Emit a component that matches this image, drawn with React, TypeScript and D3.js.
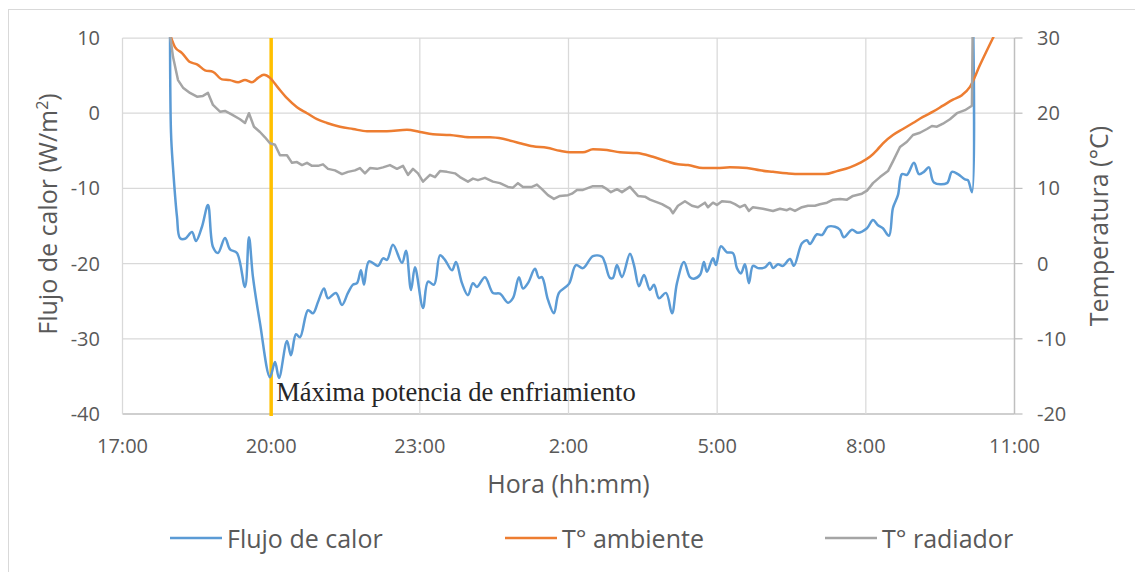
import React from "react";
import * as d3 from "d3";

// Hours elapsed since 17:00
const horasFlujo = [0.958,0.979,1.019,1.100,1.160,1.261,1.402,1.483,1.604,1.725,1.826,1.927,2.068,2.169,2.310,2.472,2.552,2.633,2.774,2.976,3.077,3.158,3.319,3.400,3.501,3.582,3.743,3.844,3.945,4.066,4.147,4.308,4.429,4.550,4.651,4.732,4.812,4.873,4.974,5.156,5.257,5.337,5.458,5.640,5.721,5.822,5.902,6.064,6.165,6.286,6.407,6.507,6.649,6.729,6.850,6.971,7.072,7.153,7.314,7.476,7.617,7.778,7.879,8.000,8.081,8.182,8.323,8.404,8.464,8.585,8.706,8.807,9.009,9.150,9.292,9.493,9.675,9.735,9.836,9.897,9.978,10.079,10.240,10.321,10.422,10.523,10.644,10.725,10.826,10.967,11.088,11.189,11.330,11.451,11.532,11.653,11.733,11.794,11.915,11.975,12.076,12.197,12.318,12.399,12.480,12.560,12.641,12.722,12.823,12.964,13.065,13.126,13.227,13.327,13.469,13.549,13.711,13.812,13.872,14.014,14.115,14.236,14.377,14.478,14.558,14.720,14.841,15.023,15.144,15.245,15.345,15.467,15.547,15.648,15.729,15.830,15.971,16.072,16.172,16.273,16.374,16.636,16.737,16.858,17.000,17.060,17.141,17.160];
const flujo = [14,-2.6,-7.2,-13.8,-16.6,-16.7,-15.8,-17.0,-15.1,-12.2,-17.8,-18.6,-16.6,-18.1,-18.6,-23.1,-16.5,-21.8,-27.9,-35.1,-33.1,-35.2,-30.3,-32.2,-29.4,-29.8,-26.2,-26.6,-25.1,-23.3,-24.6,-23.9,-25.5,-23.9,-22.8,-22.6,-20.9,-22.8,-19.7,-20.3,-19.3,-19.5,-17.5,-19.9,-18.3,-23.5,-20.5,-25.9,-22.4,-22.8,-18.9,-19.5,-20.9,-19.8,-22.6,-24.2,-22.6,-23.1,-21.8,-23.9,-24.0,-25.2,-24.6,-21.8,-23.3,-22.6,-20.7,-21.9,-21.8,-24.8,-26.6,-23.9,-22.7,-20.2,-20.6,-19.0,-19.1,-19.9,-21.9,-21.9,-20.2,-21.8,-18.7,-20.2,-23.0,-21.5,-23.5,-22.8,-24.6,-23.9,-26.6,-22.6,-19.8,-21.8,-22.0,-21.5,-19.8,-21.1,-19.3,-20.2,-17.7,-18.5,-18.6,-20.6,-21.3,-20.1,-22.6,-20.3,-20.6,-20.5,-19.9,-20.6,-20.1,-20.3,-19.4,-20.3,-17.3,-16.9,-17.4,-16.1,-16.2,-15.1,-15.1,-15.5,-16.5,-15.5,-15.9,-15.3,-14.2,-14.9,-15.3,-16.3,-12.6,-10.9,-8.1,-8.2,-6.6,-8.1,-7.8,-7.2,-9.2,-9.3,-7.8,-8.1,-8.8,-8.9,-10.5,14];

const horasAmb = [0.958,1.059,1.201,1.362,1.503,1.665,1.826,2.008,2.169,2.331,2.472,2.613,2.734,2.855,2.976,3.138,3.319,3.521,3.723,3.925,4.127,4.389,4.651,4.933,5.337,5.741,6.003,6.265,6.608,7.012,7.415,7.678,8.021,8.283,8.566,8.828,9.030,9.292,9.494,9.776,10.038,10.381,10.704,10.987,11.209,11.411,11.713,11.995,12.258,12.601,12.863,13.126,13.408,13.670,13.933,14.175,14.417,14.679,14.881,15.083,15.225,15.346,15.547,15.749,15.951,16.153,16.354,16.556,16.758,16.939,17.101,17.303,17.565,17.770];
const tAmbiente = [30.5,28.8,28.0,26.8,26.5,25.7,25.5,24.5,24.4,24.1,24.4,24.1,24.7,25.1,24.7,23.4,22.0,20.8,20.0,19.2,18.7,18.2,17.9,17.6,17.6,17.8,17.5,17.2,17.1,16.8,16.8,16.6,16.0,15.6,15.4,15.0,14.8,14.8,15.2,15.1,14.8,14.7,14.2,13.6,13.2,13.1,12.7,12.7,12.8,12.7,12.4,12.2,12.0,11.9,11.9,11.9,12.3,12.8,13.4,14.2,15.1,16.0,17.1,17.9,18.7,19.5,20.2,21.0,21.8,22.4,23.5,26.4,30.0,32.8];

const horasRad = [0.958,1.019,1.120,1.221,1.362,1.503,1.624,1.725,1.826,1.967,2.068,2.209,2.371,2.472,2.552,2.653,2.774,2.875,2.976,3.077,3.178,3.319,3.420,3.521,3.622,3.723,3.824,3.945,4.046,4.147,4.288,4.429,4.550,4.691,4.792,4.893,4.994,5.135,5.256,5.397,5.539,5.660,5.761,5.862,5.963,6.064,6.205,6.306,6.407,6.548,6.709,6.810,6.971,7.072,7.173,7.314,7.476,7.617,7.778,7.879,7.980,8.081,8.262,8.363,8.464,8.585,8.706,8.827,8.989,9.070,9.171,9.292,9.493,9.675,9.776,9.856,9.978,10.079,10.240,10.402,10.543,10.644,10.765,10.886,11.048,11.108,11.209,11.350,11.491,11.612,11.753,11.814,11.915,11.995,12.096,12.258,12.359,12.460,12.561,12.641,12.722,12.924,13.126,13.267,13.408,13.469,13.570,13.711,13.832,13.973,14.074,14.216,14.337,14.478,14.619,14.740,14.922,15.023,15.144,15.285,15.447,15.547,15.689,15.830,15.951,16.092,16.233,16.334,16.435,16.556,16.697,16.838,17.000,17.141,17.160];
const tRadiador = [30.5,27.5,24.4,23.4,22.7,22.2,22.3,22.7,21.1,20.2,20.3,19.8,19.2,18.7,20.0,18.2,17.5,16.8,16.0,15.8,14.4,14.4,13.4,13.5,13.1,13.4,13.0,13.0,13.2,12.6,12.4,11.9,12.2,12.4,12.7,12.0,12.7,12.6,12.8,13.1,12.6,13.0,11.8,12.6,12.0,10.9,11.8,11.5,12.3,12.2,12.0,11.5,10.9,11.3,11.1,11.4,10.9,10.7,10.2,10.1,10.7,10.2,10.2,10.5,9.9,9.1,8.6,9.0,9.1,9.3,9.8,9.8,10.3,10.3,9.9,9.5,9.9,9.5,10.2,9.0,8.9,8.5,8.2,7.9,7.3,6.7,7.7,8.3,7.7,7.5,8.1,7.5,8.1,7.8,8.3,8.2,7.9,7.5,7.8,7.0,7.5,7.3,7.0,7.3,7.1,7.3,7.0,7.5,7.7,7.7,7.9,8.1,8.5,8.6,8.5,9.0,9.3,9.7,10.7,11.5,12.3,13.6,15.5,16.2,17.1,17.4,17.9,18.3,18.2,18.6,19.2,20.0,20.4,21.0,34];

const xTickHoras = [0, 3, 6, 9, 12, 15, 18];
const xTickLabels = ["17:00", "20:00", "23:00", "2:00", "5:00", "8:00", "11:00"];
const yLeftTicks = [10, 0, -10, -20, -30, -40];
const yRightTicks = [30, 20, 10, 0, -10, -20];
const horaMarcador = 3;
const textoMarcador = "Máxima potencia de enfriamiento";
const leyenda = ["Flujo de calor", "T° ambiente", "T° radiador"];

const COL_BLUE = "#5B9BD5";
const COL_ORANGE = "#ED7D31";
const COL_GRAY = "#A5A5A5";
const TXT = "#595959";
const FONT = "'Open Sans', 'Noto Sans', sans-serif";

export default function App() {
  const L = 122.5, R = 1014.5, T = 38, B = 414;
  const x = d3.scaleLinear().domain([0, 18]).range([L, R]);
  const yL = d3.scaleLinear().domain([-40, 10]).range([B, T]);
  const yR = d3.scaleLinear().domain([-20, 30]).range([B, T]);

  const lineBlue = d3.line<number>()
    .x((_, i) => x(horasFlujo[i]))
    .y((d) => yL(d))
    .curve(d3.curveCatmullRom.alpha(0.5));
  const lineAmb = d3.line<number>()
    .x((_, i) => x(horasAmb[i]))
    .y((d) => yR(d))
    .curve(d3.curveMonotoneX);
  const lineRad = d3.line<number>()
    .x((_, i) => x(horasRad[i]))
    .y((d) => yR(d));

  const legendItems = [
    { label: leyenda[0], color: COL_BLUE, x0: 170 },
    { label: leyenda[1], color: COL_ORANGE, x0: 505 },
    { label: leyenda[2], color: COL_GRAY, x0: 825 },
  ];

  return (
    <svg width={1135} height={572} style={{ position: "absolute", left: 0, top: 0, background: "#fff" }}>
      <rect x={0} y={0} width={1135} height={572} fill="#fff" />
      <rect x={8.5} y={9.5} width={1140} height={600} fill="none" stroke="#d9d9d9" strokeWidth={1} />
      <defs>
        <clipPath id="plot">
          <rect x={L} y={T - 1} width={R - L} height={B - T + 2} />
        </clipPath>
      </defs>
      {yLeftTicks.map((v) => (
        <line key={"h" + v} x1={L} x2={R} y1={yL(v)} y2={yL(v)}
          stroke={v === -40 ? "#bfbfbf" : "#d9d9d9"} strokeWidth={v === -40 ? 1.5 : 1.25} />
      ))}
      {xTickHoras.slice(0, -1).map((h) => (
        <line key={"v" + h} x1={x(h)} x2={x(h)} y1={T} y2={B} stroke="#d9d9d9" strokeWidth={1.25} />
      ))}
      <line x1={R} x2={R} y1={T} y2={B} stroke="#bfbfbf" strokeWidth={1.5} />
      {yRightTicks.map((v) => (
        <line key={"rt" + v} x1={R} x2={R + 8} y1={yR(v)} y2={yR(v)} stroke="#bfbfbf" strokeWidth={1.25} />
      ))}
      {yLeftTicks.map((v) => (
        <text key={"lt" + v} x={100} y={yL(v) + 7} textAnchor="end" fontFamily={FONT} fontSize={20} fill={TXT}>{v}</text>
      ))}
      {yRightTicks.map((v) => (
        <text key={"rl" + v} x={1037} y={yR(v) + 7} textAnchor="start" fontFamily={FONT} fontSize={20} fill={TXT}>{v}</text>
      ))}
      {xTickHoras.map((h, i) => (
        <text key={"xt" + h} x={x(h)} y={453} textAnchor="middle" fontFamily={FONT} fontSize={20} fill={TXT}>{xTickLabels[i]}</text>
      ))}
      <line x1={x(horaMarcador)} x2={x(horaMarcador)} y1={T} y2={B + 2} stroke="#FFC000" strokeWidth={3.5} />
      <g clipPath="url(#plot)">
        <path d={lineBlue(flujo) || ""} fill="none" stroke={COL_BLUE} strokeWidth={2.5} strokeLinejoin="round" />
        <path d={lineAmb(tAmbiente) || ""} fill="none" stroke={COL_ORANGE} strokeWidth={2.5} strokeLinejoin="round" />
        <path d={lineRad(tRadiador) || ""} fill="none" stroke={COL_GRAY} strokeWidth={2.5} strokeLinejoin="round" />
      </g>
      <text x={x(horaMarcador) + 5} y={401} fontFamily="'Liberation Serif', 'Times New Roman', serif" fontSize={26.6} fill="#262626">{textoMarcador}</text>
      <text transform="translate(57,214) rotate(-90)" textAnchor="middle" fontFamily={FONT} fontSize={25} fill={TXT}>
        Flujo de calor (W/m<tspan fontSize={16} dy={-9}>2</tspan><tspan dy={9}>)</tspan>
      </text>
      <text transform="translate(1108,226) rotate(-90)" textAnchor="middle" fontFamily={FONT} fontSize={25} fill={TXT}>Temperatura (°C)</text>
      <text x={(L + R) / 2} y={493} textAnchor="middle" fontFamily={FONT} fontSize={25} fill={TXT}>Hora (hh:mm)</text>
      {legendItems.map((it) => (
        <g key={it.label}>
          <line x1={it.x0} x2={it.x0 + 52} y1={538} y2={538} stroke={it.color} strokeWidth={2.5} />
          <text x={it.x0 + 57} y={548} fontFamily={FONT} fontSize={25} fill={TXT}>{it.label}</text>
        </g>
      ))}
    </svg>
  );
}
